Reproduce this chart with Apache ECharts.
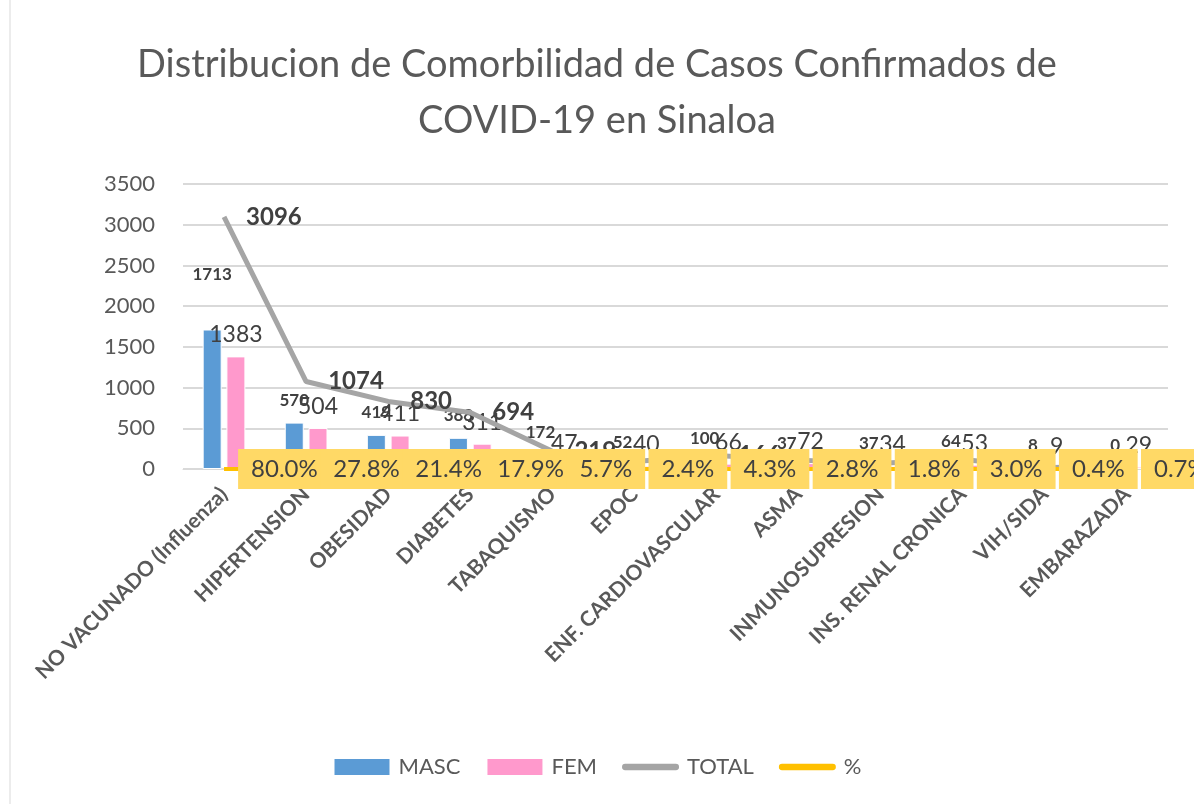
<!DOCTYPE html>
<html>
<head>
<meta charset="utf-8">
<script src="https://cdn.jsdelivr.net/npm/echarts@6/dist/echarts.min.js"></script>
<style>
  html, body { margin: 0; padding: 0; background: #fff; }
  #chart { width: 1194px; height: 804px; }
</style>
</head>
<body>
<div id="chart"></div>
<script>
const categories = ['NO VACUNADO (Influenza)', 'HIPERTENSION', 'OBESIDAD', 'DIABETES', 'TABAQUISMO', 'EPOC',
  'ENF. CARDIOVASCULAR', 'ASMA', 'INMUNOSUPRESION', 'INS. RENAL CRONICA', 'VIH/SIDA', 'EMBARAZADA']
const masc = [1713, 570, 419, 383, 172, 52, 100, 37, 37, 64, 8, 0]
const fem = [1383, 504, 411, 311, 47, 40, 66, 72, 34, 53, 9, 29]
const total = [3096, 1074, 830, 694, 219, 92, 166, 109, 71, 117, 17, 29]
const pct = [0.800, 0.278, 0.214, 0.179, 0.057, 0.024, 0.043, 0.028, 0.018, 0.030, 0.004, 0.007]
const yTicks = [0, 500, 1000, 1500, 2000, 2500, 3000, 3500]

const FONT = 'Lato'
const TXT = '#404040'
// flat rounded bar used as legend icon for the two lines
const LINE_ICON = 'path://M3.5,0 L59.5,0 A3.5,3.5 0 0 1 59.5,7 L3.5,7 A3.5,3.5 0 0 1 3.5,0 Z'

const chart = echarts.init(document.getElementById('chart'))

// first MASC label was moved up by hand in the source chart
const mascData = masc.map((v, i) => i === 0 ? { value: v, label: { offset: [0, -32] } } : v)

chart.setOption({
  textStyle: { fontFamily: FONT },
  title: {
    text: 'Distribucion de Comorbilidad de Casos Confirmados de\nCOVID-19 en Sinaloa',
    left: 'center',
    top: 32,
    textStyle: { fontSize: 38, fontWeight: 'normal', color: '#595959', lineHeight: 56, fontFamily: FONT }
  },
  graphic: [{
    type: 'rect',
    shape: { x: 10, y: -2, width: 1200, height: 820 },
    style: { fill: 'none', stroke: '#D9D9D9', lineWidth: 1 },
    silent: true
  }],
  legend: {
    top: 751,
    left: 'center',
    itemWidth: 57,
    itemHeight: 18,
    itemGap: 25,
    textStyle: { fontSize: 22, color: '#595959', fontFamily: FONT, padding: [0, 0, 0, 3] },
    data: [
      { name: 'MASC', icon: 'rect' },
      { name: 'FEM', icon: 'rect' },
      { name: 'TOTAL', icon: LINE_ICON },
      { name: '%', icon: LINE_ICON }
    ]
  },
  grid: { left: 183, right: 26, top: 184, bottom: 335 },
  xAxis: {
    type: 'category',
    data: categories,
    axisTick: { show: false },
    axisLine: { lineStyle: { color: '#D9D9D9', width: 1 } },
    axisLabel: {
      interval: 0, rotate: 45, margin: 22,
      fontSize: 21, fontWeight: 'bold', color: '#595959', fontFamily: FONT
    }
  },
  yAxis: {
    type: 'value',
    min: yTicks[0],
    max: yTicks[yTicks.length - 1],
    interval: yTicks[1] - yTicks[0],
    axisLine: { show: false },
    axisTick: { show: false },
    splitLine: { lineStyle: { color: '#D9D9D9', width: 2 } },
    axisLabel: { fontSize: 22, color: '#595959', margin: 28, fontFamily: FONT, formatter: v => String(v) }
  },
  series: [
    {
      name: 'MASC', type: 'bar', data: mascData,
      barWidth: 19, barGap: '25%',
      itemStyle: { color: '#5B9BD5', borderColor: '#fff', borderWidth: 1 },
      label: { show: true, position: 'top', distance: 14, fontSize: 17, fontWeight: 'bold', color: TXT, fontFamily: FONT }
    },
    {
      name: 'FEM', type: 'bar', data: fem,
      barWidth: 19,
      itemStyle: { color: '#FF99CC', borderColor: '#fff', borderWidth: 1 },
      label: { show: true, position: 'top', distance: 10, fontSize: 23, color: TXT, fontFamily: FONT }
    },
    {
      name: 'TOTAL', type: 'line', data: total,
      symbol: 'circle', symbolSize: 0.1,
      itemStyle: { color: '#A5A5A5' },
      lineStyle: { color: '#A5A5A5', width: 5 },
      z: 3,
      label: { show: true, position: 'right', distance: 22, fontSize: 24, fontWeight: 'bold', color: TXT, fontFamily: FONT }
    },
    {
      name: '%', type: 'line', data: pct,
      symbol: 'circle', symbolSize: 0.1,
      itemStyle: { color: '#FFC000' },
      lineStyle: { color: '#FFC000', width: 4 },
      z: 10,
      label: {
        show: true, position: 'right', distance: 14,
        formatter: p => (p.value * 100).toFixed(1) + '%',
        fontSize: 24, color: TXT, fontFamily: FONT,
        backgroundColor: '#FFD966', padding: [8, 13]
      }
    }
  ]
})

window.addEventListener('resize', () => chart.resize())
</script>
</body>
</html>
